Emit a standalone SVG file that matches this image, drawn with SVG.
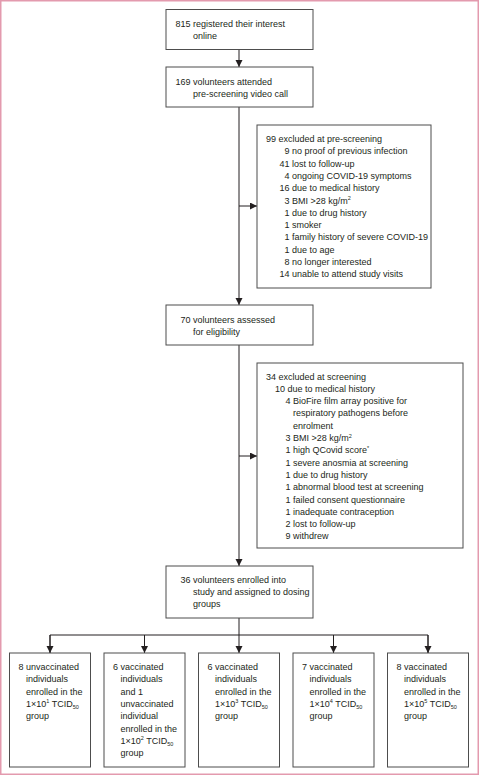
<svg xmlns="http://www.w3.org/2000/svg" width="479" height="776" viewBox="0 0 479 776">
<defs>
<style>
text{font-family:"Liberation Sans",Arial,sans-serif;font-size:9px;fill:#231f20}
.n{text-anchor:end}
.box{fill:#fff;stroke:#4d4d4d;stroke-width:1}
.ln{fill:none;stroke:#231f20;stroke-width:1}
.sm{font-size:5.5px}
</style>
<marker id="ah" markerUnits="userSpaceOnUse" markerWidth="8" markerHeight="8" refX="7" refY="3.5" orient="auto">
<path d="M0,0 L7,3.5 L0,7 z" fill="#231f20"/>
</marker>
</defs>
<rect x="0.75" y="0.75" width="477.5" height="773.5" fill="#fff" stroke="#e39aae" stroke-width="1.5"/>

<g id="connectors">
<line class="ln" x1="239" y1="49" x2="239" y2="67" marker-end="url(#ah)"/>
<line class="ln" x1="239" y1="107" x2="239" y2="305" marker-end="url(#ah)"/>
<line class="ln" x1="239" y1="206" x2="257" y2="206" marker-end="url(#ah)"/>
<line class="ln" x1="239" y1="345" x2="239" y2="566" marker-end="url(#ah)"/>
<line class="ln" x1="239" y1="456" x2="257" y2="456" marker-end="url(#ah)"/>
<line class="ln" x1="239" y1="618" x2="239" y2="653" marker-end="url(#ah)"/>
<polyline class="ln" points="50,653 50,635 428,635 428,653"/>
<line class="ln" x1="50" y1="635" x2="50" y2="653" marker-end="url(#ah)"/>
<line class="ln" x1="144.5" y1="635" x2="144.5" y2="653" marker-end="url(#ah)"/>
<line class="ln" x1="333.5" y1="635" x2="333.5" y2="653" marker-end="url(#ah)"/>
<line class="ln" x1="428" y1="635" x2="428" y2="653" marker-end="url(#ah)"/>
</g>

<g id="registered">
<rect class="box" x="166" y="9.5" width="147" height="40"/>
<text class="n" x="190.5" y="26.5">815</text>
<text x="193" y="26.5">registered their interest</text>
<text x="193" y="38.8">online</text>
</g>

<g id="attended">
<rect class="box" x="166" y="67" width="147" height="40"/>
<text class="n" x="190.5" y="84.5">169</text>
<text x="193" y="84.5">volunteers attended</text>
<text x="193" y="96.8">pre-screening video call</text>
</g>

<g id="excluded-prescreening">
<rect class="box" x="257" y="125" width="174" height="163"/>
<text x="266" y="142">99</text>
<text x="278.5" y="142">excluded at pre-screening</text>
<text class="n" x="289.5" y="154.3">9</text><text x="292" y="154.3">no proof of previous infection</text>
<text class="n" x="289.5" y="166.6">41</text><text x="292" y="166.6">lost to follow-up</text>
<text class="n" x="289.5" y="178.9">4</text><text x="292" y="178.9">ongoing COVID-19 symptoms</text>
<text class="n" x="289.5" y="191.2">16</text><text x="292" y="191.2">due to medical history</text>
<text class="n" x="289.5" y="203.5">3</text><text x="292" y="203.5">BMI &gt;28 kg/m<tspan class="sm" dy="-3.5">2</tspan></text>
<text class="n" x="289.5" y="215.8">1</text><text x="292" y="215.8">due to drug history</text>
<text class="n" x="289.5" y="228.1">1</text><text x="292" y="228.1">smoker</text>
<text class="n" x="289.5" y="240.4">1</text><text x="292" y="240.4">family history of severe COVID-19</text>
<text class="n" x="289.5" y="252.7">1</text><text x="292" y="252.7">due to age</text>
<text class="n" x="289.5" y="265">8</text><text x="292" y="265">no longer interested</text>
<text class="n" x="289.5" y="277.3">14</text><text x="292" y="277.3">unable to attend study visits</text>
</g>

<g id="assessed">
<rect class="box" x="166" y="305" width="147" height="40"/>
<text class="n" x="190.5" y="322.5">70</text>
<text x="193" y="322.5">volunteers assessed</text>
<text x="193" y="334.8">for eligibility</text>
</g>

<g id="excluded-screening">
<rect class="box" x="257" y="363" width="206" height="185"/>
<text x="266" y="379.5">34</text>
<text x="278.5" y="379.5">excluded at screening</text>
<text class="n" x="285" y="391.8">10</text><text x="287.5" y="391.8">due to medical history</text>
<text class="n" x="290.5" y="404.1">4</text><text x="293" y="404.1">BioFire film array positive for</text>
<text x="293" y="416.4">respiratory pathogens before</text>
<text x="293" y="428.7">enrolment</text>
<text class="n" x="290.5" y="441">3</text><text x="293" y="441">BMI &gt;28 kg/m<tspan class="sm" dy="-3.5">2</tspan></text>
<text class="n" x="290.5" y="453.3">1</text><text x="293" y="453.3">high QCovid score<tspan class="sm" dy="-3">*</tspan></text>
<text class="n" x="290.5" y="465.6">1</text><text x="293" y="465.6">severe anosmia at screening</text>
<text class="n" x="290.5" y="477.9">1</text><text x="293" y="477.9">due to drug history</text>
<text class="n" x="290.5" y="490.2">1</text><text x="293" y="490.2">abnormal blood test at screening</text>
<text class="n" x="290.5" y="502.5">1</text><text x="293" y="502.5">failed consent questionnaire</text>
<text class="n" x="290.5" y="514.8">1</text><text x="293" y="514.8">inadequate contraception</text>
<text class="n" x="290.5" y="527.1">2</text><text x="293" y="527.1">lost to follow-up</text>
<text class="n" x="290.5" y="539.4">9</text><text x="293" y="539.4">withdrew</text>
</g>

<g id="enrolled">
<rect class="box" x="166" y="566" width="147" height="52"/>
<text class="n" x="190.5" y="582.5">36</text>
<text x="193" y="582.5">volunteers enrolled into</text>
<text x="193" y="594.8">study and assigned to dosing</text>
<text x="193" y="607.1">groups</text>
</g>

<g id="group1">
<rect class="box" x="9.5" y="653" width="81" height="114"/>
<text x="18.5" y="670">8</text><text x="26" y="670">unvaccinated</text>
<text x="26" y="682.3">individuals</text>
<text x="26" y="694.6">enrolled in the</text>
<text x="26" y="706.9">1×10<tspan class="sm" dy="-3.5">1</tspan><tspan dy="3.5"> TCID</tspan><tspan class="sm" dy="1.8">50</tspan></text>
<text x="26" y="719.2">group</text>
</g>

<g id="group2">
<rect class="box" x="104" y="653" width="81" height="114"/>
<text x="113" y="670">6</text><text x="120.5" y="670">vaccinated</text>
<text x="120.5" y="682.3">individuals</text>
<text x="120.5" y="694.6">and 1</text>
<text x="120.5" y="706.9">unvaccinated</text>
<text x="120.5" y="719.2">individual</text>
<text x="120.5" y="731.5">enrolled in the</text>
<text x="120.5" y="743.8">1×10<tspan class="sm" dy="-3.5">2</tspan><tspan dy="3.5"> TCID</tspan><tspan class="sm" dy="1.8">50</tspan></text>
<text x="120.5" y="756.1">group</text>
</g>

<g id="group3">
<rect class="box" x="198.5" y="653" width="81" height="114"/>
<text x="207.5" y="670">6</text><text x="215" y="670">vaccinated</text>
<text x="215" y="682.3">individuals</text>
<text x="215" y="694.6">enrolled in the</text>
<text x="215" y="706.9">1×10<tspan class="sm" dy="-3.5">3</tspan><tspan dy="3.5"> TCID</tspan><tspan class="sm" dy="1.8">50</tspan></text>
<text x="215" y="719.2">group</text>
</g>

<g id="group4">
<rect class="box" x="293" y="653" width="81" height="114"/>
<text x="302" y="670">7</text><text x="309.5" y="670">vaccinated</text>
<text x="309.5" y="682.3">individuals</text>
<text x="309.5" y="694.6">enrolled in the</text>
<text x="309.5" y="706.9">1×10<tspan class="sm" dy="-3.5">4</tspan><tspan dy="3.5"> TCID</tspan><tspan class="sm" dy="1.8">50</tspan></text>
<text x="309.5" y="719.2">group</text>
</g>

<g id="group5">
<rect class="box" x="387.5" y="653" width="81" height="114"/>
<text x="396.5" y="670">8</text><text x="404" y="670">vaccinated</text>
<text x="404" y="682.3">individuals</text>
<text x="404" y="694.6">enrolled in the</text>
<text x="404" y="706.9">1×10<tspan class="sm" dy="-3.5">5</tspan><tspan dy="3.5"> TCID</tspan><tspan class="sm" dy="1.8">50</tspan></text>
<text x="404" y="719.2">group</text>
</g>
</svg>
